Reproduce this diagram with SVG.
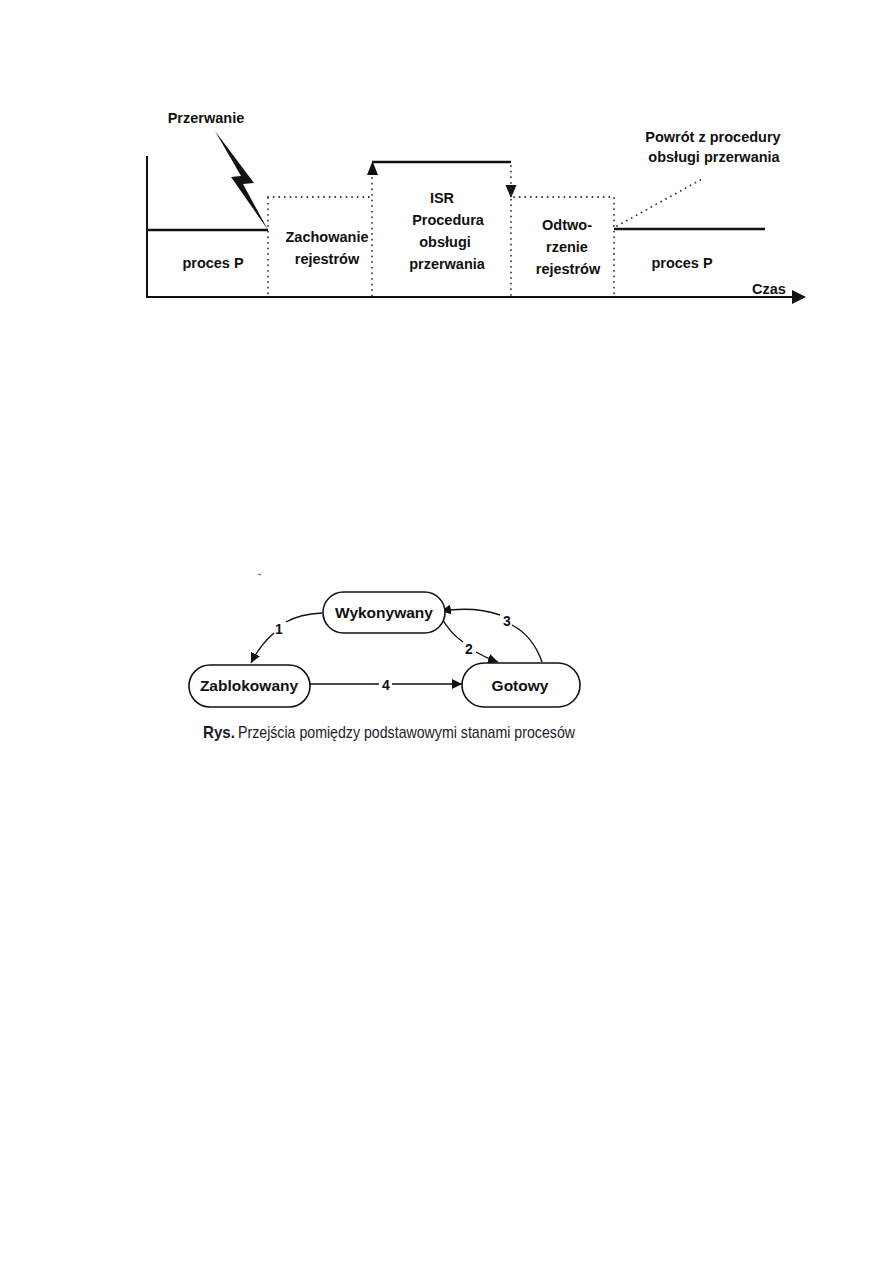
<svg xmlns="http://www.w3.org/2000/svg" width="893" height="1263" viewBox="0 0 893 1263">
<defs>
<style>
.bg{fill:#ffffff}
.t{font-family:"Liberation Sans",Arial,Helvetica,sans-serif;font-weight:bold;font-size:14.5px;fill:#111;text-anchor:middle}
.n{font-family:"Liberation Sans",Arial,Helvetica,sans-serif;font-weight:bold;font-size:15.5px;fill:#111;text-anchor:middle}
.lbl{font-family:"Liberation Sans",Arial,Helvetica,sans-serif;font-weight:bold;font-size:14px;fill:#111;text-anchor:middle}
.solid{stroke:#111;stroke-width:2.5;fill:none}
.axis{stroke:#111;stroke-width:2;fill:none}
.dot{stroke:#333;stroke-width:1.8;fill:none;stroke-dasharray:0.1 5.5;stroke-linecap:round}
.node{fill:#fff;stroke:#111;stroke-width:1.6}
.edge{stroke:#111;stroke-width:1.4;fill:none}
.cap{font-family:"Liberation Sans",Arial,Helvetica,sans-serif;font-size:17px;fill:#1c1c28}
</style>
<marker id="ah" viewBox="0 0 10 10" refX="10" refY="5" markerWidth="10" markerHeight="10" markerUnits="userSpaceOnUse" orient="auto">
<path d="M0,0 L10,5 L0,10 z" fill="#111"/>
</marker>
</defs>
<rect class="bg" x="0" y="0" width="893" height="1263"/>

<!-- Timing diagram -->
<g id="timeline">
<line class="axis" x1="147" y1="156" x2="147" y2="298"/>
<line class="axis" x1="146" y1="297" x2="795" y2="297"/>
<polygon points="792,290 806,297 792,304" fill="#111"/>
<line class="solid" x1="147" y1="230" x2="268" y2="230"/>
<line class="solid" x1="614" y1="229" x2="765" y2="229"/>
<line class="solid" x1="372" y1="162" x2="511" y2="162"/>
<polygon points="367,175 378,175 372.5,161" fill="#111"/>
<polygon points="505.5,185 516.5,185 511,198" fill="#111"/>
<line class="dot" x1="268" y1="198" x2="268" y2="297"/>
<line class="dot" x1="268" y1="197" x2="372" y2="197"/>
<line class="dot" x1="372" y1="178" x2="372" y2="297"/>
<line class="dot" x1="511" y1="166" x2="511" y2="297"/>
<line class="dot" x1="514" y1="197" x2="614" y2="197"/>
<line class="dot" x1="614" y1="198" x2="614" y2="297"/>
<line class="dot" x1="617" y1="226" x2="702" y2="179"/>
<polygon points="215,131 254,183 243,184 268,230 231,177 241,176" fill="#111"/>
</g>

<g id="timeline-labels">
<text class="t" x="206" y="123">Przerwanie</text>
<text class="t" x="213" y="268">proces P</text>
<text class="t" x="327" y="242">Zachowanie</text>
<text class="t" x="327" y="264">rejestrów</text>
<text class="t" x="442" y="203">ISR</text>
<text class="t" x="448" y="225">Procedura</text>
<text class="t" x="445" y="247">obsługi</text>
<text class="t" x="447" y="269">przerwania</text>
<text class="t" x="567" y="230">Odtwo-</text>
<text class="t" x="567" y="252">rzenie</text>
<text class="t" x="568" y="274">rejestrów</text>
<text class="t" x="713" y="142">Powrót z procedury</text>
<text class="t" x="714" y="162">obsługi przerwania</text>
<text class="t" x="682" y="268">proces P</text>
<text class="t" x="769" y="294">Czas</text>
</g>

<!-- State diagram -->
<line x1="258" y1="574" x2="261" y2="575" stroke="#555" stroke-width="1"/>

<g id="connectors">
<path class="edge" d="M322,613 Q 300,614 286,622"/>
<path class="edge" d="M274,633 Q 260,645 251,663" marker-end="url(#ah)"/>
<line class="edge" x1="310" y1="684" x2="379" y2="684"/>
<line class="edge" x1="392" y1="684" x2="462" y2="684" marker-end="url(#ah)"/>
<path class="edge" d="M441,617 Q 450,633 463,642"/>
<path class="edge" d="M476,652 Q 486,658 498,662" marker-end="url(#ah)"/>
<path class="edge" d="M542,662 Q 533,636 512,625"/>
<path class="edge" d="M500,615 Q 475,606 441,611" marker-end="url(#ah)"/>
<text class="lbl" x="279" y="634">1</text>
<text class="lbl" x="386" y="690">4</text>
<text class="lbl" x="469" y="654">2</text>
<text class="lbl" x="507" y="626">3</text>
</g>

<g id="node-wykonywany">
<rect class="node" x="323" y="592" width="122" height="41" rx="20.5" ry="20.5"/>
<text class="n" x="384" y="618">Wykonywany</text>
</g>
<g id="node-zablokowany">
<rect class="node" x="189" y="665" width="121" height="42" rx="21" ry="21"/>
<text class="n" x="249" y="691">Zablokowany</text>
</g>
<g id="node-gotowy">
<rect class="node" x="462" y="663" width="118" height="44" rx="22" ry="22"/>
<text class="n" x="520" y="691">Gotowy</text>
</g>

<g id="caption">
<text class="cap" x="203" y="738" font-weight="bold" textLength="32" lengthAdjust="spacingAndGlyphs">Rys.</text>
<text class="cap" x="238" y="738" textLength="337" lengthAdjust="spacingAndGlyphs">Przejścia pomiędzy podstawowymi stanami procesów</text>
</g>
</svg>
